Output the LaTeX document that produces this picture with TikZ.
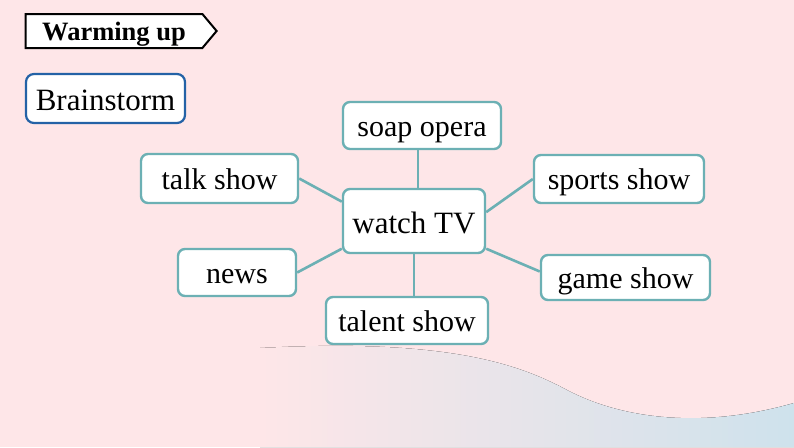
\documentclass[tikz,border=0pt]{standalone}
\usepackage{fontspec}
\setmainfont{Liberation Serif}
\usetikzlibrary{shapes.symbols}
\definecolor{PageRose}{RGB}{254,230,232}
\definecolor{WaveBlue}{RGB}{206,226,236}
\definecolor{ShowTeal}{RGB}{108,176,180}
\definecolor{StormBlue}{RGB}{36,98,166}
\tikzset{
  show/.style={draw=ShowTeal,fill=white,line width=2.4pt,rounded corners=7pt,inner sep=0pt,
    text height=21pt,text depth=0pt,font=\fontsize{30}{34}\selectfont},
  link/.style={draw=ShowTeal,line width=2.6pt},
  tag/.style={signal,signal to=east,signal pointer angle=100,draw=black,fill=white,line width=2pt,
    inner sep=0pt,minimum width=191,minimum height=34,text height=18pt,text depth=0pt,
    font=\bfseries\fontsize{26.5}{29}\selectfont},
  storm/.style={draw=StormBlue,fill=white,line width=2.2pt,rounded corners=8pt,inner sep=0pt,
    minimum width=159,minimum height=49,text height=23pt,text depth=0pt,font=\fontsize{31}{35}\selectfont},
}

\begin{document}
\begin{tikzpicture}[x=1pt,y=-1pt]
\useasboundingbox (0,0) rectangle (794,447);
% background
\fill[PageRose] (0,0) rectangle (794,447);
\fill[left color=PageRose,right color=WaveBlue] (260,447) -- (260,348) .. controls (450,338) and (520,365) .. (567,390)
  .. controls (620,418) and (700,430) .. (794,403) -- (794,447) -- cycle;
% heading
\node[tag] (warm) at (114,31) {Warming up};
\node[storm] (storm) at (105.5,98.5) {Brainstorm};
% mind map
\node[show,minimum width=142,minimum height=64,text height=24pt,font=\fontsize{31}{35}\selectfont] (tv) at (414,221) {watch TV};
\node[show,minimum width=158,minimum height=47] (soap) at (422,125.5) {soap opera};
\node[show,minimum width=157,minimum height=49] (talk) at (219.5,178.5) {talk show};
\node[show,minimum width=170,minimum height=48] (sports) at (619,179) {sports show};
\node[show,minimum width=118,minimum height=47] (news) at (237,272.5) {news};
\node[show,minimum width=169,minimum height=45] (game) at (625.5,277.5) {game show};
\node[show,minimum width=162,minimum height=47] (talent) at (407,320.5) {talent show};
\draw[link] (tv.83) -- (tv.83 |- soap.south);
\draw[link] (talk.east) -- (tv.165);
\draw[link] (news.east) -- (tv.201);
\draw[link] (sports.west) -- (tv.7);
\draw[link] (game.176) -- (tv.339);
\draw[link] (tv.south) -- (tv.south |- talent.north);
\end{tikzpicture}
\end{document}
